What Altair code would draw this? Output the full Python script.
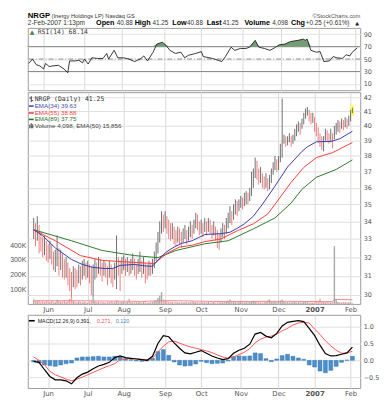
import altair as alt
import pandas as pd

# ---------------- data ----------------
month_idx = [8, 30, 50, 73, 93, 115, 136, 156, 176]
month_lbl = ["Jun", "Jul", "Aug", "Sep", "Oct", "Nov", "Dec", "2007", "Feb"]

close = [
    33.5, 33.2, 33.6, 33.3, 32.7, 32.5, 32.8, 32.3,
    32.2, 32.6, 32.1, 31.8, 31.9, 32.3, 31.9, 32.0, 31.6, 31.4, 31.5, 31.0, 30.8, 30.6, 31.1, 30.9, 30.8, 31.2, 31.0, 31.3, 31.5, 31.2,
    31.4, 31.1, 30.7, 31.0, 31.5, 31.3, 31.6, 31.4, 31.2, 31.5, 31.3, 31.0, 31.4, 31.1, 30.9, 31.3, 31.7, 31.5, 31.3, 31.6,
    31.7, 31.4, 31.6, 31.3, 31.5, 31.8, 31.4, 31.2, 31.5, 31.6, 31.3, 31.5, 31.3, 31.1, 31.4, 31.3, 31.5, 31.9, 32.3, 32.9, 33.4, 34.1, 33.9,
    34.2, 33.8, 33.6, 33.3, 33.5, 33.2, 33.0, 33.3, 33.1, 32.9, 33.2, 33.4, 33.0, 33.3, 33.6, 33.4, 33.8, 34.1, 33.9, 33.6,
    33.7, 33.5, 33.8, 33.6, 33.9, 33.7, 33.4, 33.6, 33.3, 33.1, 32.9, 33.2, 33.5, 33.4, 33.8, 34.1, 34.4, 34.2, 34.6, 34.9, 34.7, 35.0,
    35.2, 35.0, 35.3, 35.5, 35.3, 35.6, 36.4, 36.9, 37.5, 37.0, 36.6, 36.8, 36.4, 36.2, 36.5, 36.1, 36.3, 36.8, 37.3, 37.6, 37.4,
    37.6, 38.3, 39.0, 39.1, 38.9, 39.0, 39.2, 38.9, 39.1, 39.4, 39.7, 40.0, 39.8, 40.2, 40.5, 40.9, 41.1, 40.8, 40.5, 40.6,
    40.1, 39.7, 39.4, 39.0, 38.7, 38.8, 39.5, 39.3, 39.1, 39.4, 39.0, 39.6, 39.8, 40.1, 39.9, 40.2, 40.0, 40.3, 40.1, 40.4,
    41.0, 41.25,
]
high = [
    34.2, 33.9, 34.3, 33.8, 33.4, 33.1, 33.2, 32.9,
    32.7, 32.9, 32.7, 32.3, 32.4, 33.2, 32.5, 32.4, 32.2, 31.9, 32.0, 31.7, 31.4, 31.2, 31.5, 31.4, 31.3, 31.6, 31.5, 31.8, 31.9, 31.7,
    31.8, 31.6, 31.5, 31.6, 31.9, 31.7, 32.0, 31.9, 31.7, 31.8, 31.7, 31.5, 31.8, 31.6, 31.4, 31.7, 33.2, 32.0, 31.8, 32.0,
    32.1, 31.9, 32.0, 31.8, 31.9, 32.2, 31.9, 31.6, 31.9, 32.3, 31.8, 32.0, 31.7, 31.6, 31.8, 31.7, 31.9, 32.3, 32.8, 33.4, 34.0, 34.6, 34.4,
    34.6, 34.3, 34.1, 33.9, 33.9, 33.7, 33.5, 33.7, 33.6, 33.4, 33.6, 33.8, 33.5, 33.7, 34.0, 33.8, 34.1, 34.5, 34.4, 34.0,
    34.1, 33.9, 34.2, 34.0, 34.2, 34.1, 33.8, 34.0, 33.7, 33.5, 33.3, 33.6, 33.9, 33.8, 34.2, 34.5, 34.9, 34.6, 35.0, 35.3, 35.2, 35.3,
    35.5, 35.4, 35.7, 35.8, 35.7, 36.0, 37.0, 37.2, 37.9, 37.7, 37.2, 37.3, 36.9, 36.7, 36.9, 36.6, 36.8, 37.2, 37.6, 38.0, 37.8,
    38.0, 38.8, 41.9, 39.4, 39.3, 39.3, 39.5, 39.3, 39.4, 39.8, 40.1, 40.3, 40.2, 40.5, 40.9, 41.2, 41.3, 41.1, 40.9, 40.9,
    40.6, 40.2, 39.9, 39.5, 39.3, 39.3, 39.8, 39.7, 39.5, 39.8, 39.5, 40.0, 40.2, 40.4, 40.3, 40.5, 40.4, 40.6, 40.5, 40.7,
    41.1, 41.25,
]
low = [
    33.0, 32.6, 32.9, 32.2, 32.3, 32.0, 32.1, 31.8,
    31.7, 31.9, 31.6, 31.3, 31.2, 31.5, 31.0, 31.3, 30.9, 30.8, 30.9, 30.5, 30.2, 29.9, 30.4, 30.3, 30.4, 30.6, 30.5, 30.8, 31.0, 30.8,
    30.9, 30.6, 30.0, 29.9, 30.8, 30.9, 31.1, 31.0, 30.7, 31.0, 30.9, 30.5, 30.9, 30.6, 30.4, 30.8, 30.3, 31.0, 30.2, 31.1,
    31.3, 31.0, 31.2, 31.0, 31.1, 31.3, 31.0, 30.8, 31.1, 31.2, 30.9, 31.1, 30.6, 30.8, 31.0, 31.0, 31.1, 31.4, 31.8, 32.2, 32.8, 33.3, 33.4,
    33.6, 33.3, 33.0, 32.9, 33.0, 32.7, 32.6, 32.8, 32.7, 32.5, 32.8, 33.0, 32.7, 32.9, 33.1, 33.0, 33.3, 33.6, 33.5, 33.2,
    33.3, 33.1, 33.4, 33.2, 33.4, 33.3, 33.0, 33.2, 32.9, 32.5, 32.4, 32.8, 33.1, 33.0, 33.3, 33.6, 33.9, 33.8, 34.1, 34.4, 34.3, 34.6,
    34.8, 34.7, 34.9, 35.0, 35.0, 35.2, 35.5, 36.0, 36.6, 36.5, 36.2, 36.3, 36.0, 35.9, 36.0, 35.8, 35.9, 36.3, 36.8, 37.1, 37.0,
    37.1, 37.6, 37.9, 38.8, 38.6, 38.7, 38.9, 38.6, 38.8, 39.0, 39.3, 39.6, 39.4, 39.8, 40.1, 40.5, 40.7, 40.3, 40.1, 40.2,
    39.6, 39.3, 38.9, 38.6, 38.4, 38.3, 39.0, 38.9, 38.8, 38.9, 38.5, 39.1, 39.4, 39.6, 39.5, 39.8, 39.7, 39.9, 39.8, 40.0,
    40.3, 40.88,
]
volume_k = [
    30, 22, 18, 25, 15, 20, 12, 24,
    18, 14, 22, 16, 12, 28, 20, 15, 18, 22, 14, 26, 35, 50, 20, 16, 12, 18, 14, 10, 15, 12,
    8, 14, 22, 45, 18, 12, 16, 10, 14, 12, 9, 15, 11, 18, 13, 10, 25, 14, 12, 16,
    12, 10, 14, 35, 12, 9, 11, 13, 10, 12, 8, 14, 11, 9, 10, 12, 14, 20, 25, 40, 55, 80, 30,
    22, 18, 15, 12, 14, 10, 16, 12, 11, 13, 9, 12, 14, 10, 12, 18, 15, 11, 13, 10,
    12, 14, 9, 11, 15, 10, 12, 14, 9, 11, 13, 10, 12, 15, 18, 22, 30, 16, 14, 12, 10, 13,
    15, 12, 10, 14, 11, 13, 20, 22, 18, 14, 12, 10, 9, 11, 13, 25, 30, 12, 14, 16, 13,
    18, 22, 28, 16, 14, 12, 10, 15, 11, 13, 9, 12, 14, 10, 16, 12, 11, 9, 10, 8,
    12, 14, 18, 35, 16, 12, 10, 14, 11, 9, 12, 395, 30, 14, 12, 10, 13, 11, 9, 12,
    10, 4.098,
]
ema34 = [(0, 33.52), (5, 33.18), (12, 32.5), (21, 31.87), (27, 31.6), (33, 31.44), (40, 31.38), (44, 31.39),
         (48, 31.55), (56, 31.6), (62, 31.52), (66, 31.5), (70, 31.95), (74, 32.3), (78, 32.55), (82, 32.75),
         (88, 32.9), (95, 33.25), (104, 33.3), (109, 33.38), (113, 33.6), (117, 33.86), (122, 34.3), (127, 35.0),
         (134, 36.1), (141, 37.3), (149, 38.3), (152, 38.6), (157, 38.93), (165, 38.95), (170, 39.13), (177, 39.63)]
ema55 = [(0, 33.52), (12, 32.9), (26, 32.08), (38, 31.82), (56, 31.71), (67, 31.65), (74, 32.2), (81, 32.55),
         (88, 32.65), (95, 32.85), (104, 33.0), (113, 33.46), (122, 33.86), (130, 34.43), (134, 35.0), (143, 36.34),
         (150, 37.27), (157, 37.9), (166, 38.22), (177, 38.88)]
ema89 = [(0, 33.52), (21, 32.9), (38, 32.36), (56, 32.08), (69, 31.97), (79, 32.36), (95, 32.73), (108, 32.9),
         (122, 33.57), (134, 34.2), (143, 35.08), (149, 35.91), (157, 36.65), (168, 37.14), (177, 37.75)]
vol_ema_k = [(0, 22), (20, 22), (40, 20), (60, 17), (70, 22), (80, 22), (100, 17), (120, 17), (140, 18),
             (160, 16), (166, 16), (167, 31), (177, 28)]
rsi14 = [(0, 43), (2, 50), (4, 41), (6, 39), (8, 34), (9, 43), (11, 38), (13, 39), (16, 40), (19, 34), (21, 28),
         (22, 47), (25, 47), (27, 48), (29, 44), (30, 50), (32, 42), (34, 52), (37, 51), (40, 51), (42, 59), (43, 50),
         (46, 64), (48, 52), (51, 52), (54, 50), (57, 46), (60, 50), (62, 55), (64, 47), (67, 61), (69, 74), (72, 77),
         (74, 72), (76, 64), (79, 59), (82, 61), (84, 52), (86, 56), (90, 59), (93, 62), (94, 54), (99, 51), (104, 46),
         (106, 54), (109, 69), (111, 64), (114, 67), (117, 67), (119, 69), (122, 80), (124, 69), (127, 67), (130, 64),
         (133, 69), (135, 73), (138, 74), (141, 78), (145, 80), (148, 82), (149, 80), (150, 82), (152, 64), (155, 61),
         (157, 62), (159, 46), (162, 47), (164, 54), (166, 52), (169, 51), (171, 57), (173, 55), (174, 60), (177, 68)]
macd_step = 3  # MACD values read every 3 trading days
macd_line = [-0.03, -0.06, -0.28, -0.48, -0.58, -0.58, -0.61, -0.70, -0.52, -0.41,
             -0.35, -0.25, -0.17, -0.12, -0.06, 0.08, 0.13, 0.08, 0.06, 0.04,
             0.02, 0.00, 0.12, 0.50, 0.73, 0.70, 0.52, 0.36, 0.22, 0.19,
             0.24, 0.29, 0.21, 0.13, 0.07, 0.02, 0.05, 0.21, 0.30, 0.36,
             0.48, 0.78, 0.83, 0.72, 0.67, 0.80, 1.02, 1.13, 1.16, 1.18,
             1.15, 0.95, 0.74, 0.45, 0.20, 0.13, 0.14, 0.18, 0.22, 0.39]
macd_signal = [0.10, 0.00, -0.13, -0.33, -0.43, -0.49, -0.56, -0.61, -0.56, -0.50,
               -0.43, -0.36, -0.29, -0.22, -0.16, -0.10, 0.02, 0.05, 0.05, 0.05,
               0.03, 0.02, 0.06, 0.25, 0.42, 0.55, 0.57, 0.51, 0.45, 0.40,
               0.36, 0.32, 0.28, 0.23, 0.16, 0.10, 0.06, 0.10, 0.17, 0.24,
               0.35, 0.52, 0.63, 0.69, 0.72, 0.78, 0.88, 0.95, 1.05, 1.11,
               1.13, 1.11, 0.93, 0.77, 0.58, 0.43, 0.30, 0.21, 0.22, 0.27]
macd_hist = [-0.05, -0.08, -0.14, -0.16, -0.18, -0.14, -0.10, -0.08, 0.07, 0.10,
             0.10, 0.11, 0.12, 0.10, 0.10, 0.12, 0.11, 0.04, 0.02, -0.02,
             -0.03, -0.02, 0.06, 0.26, 0.32, 0.15, -0.05, -0.14, -0.17, -0.16,
             -0.11, -0.03, -0.07, -0.10, -0.09, -0.08, -0.02, 0.11, 0.13, 0.12,
             0.13, 0.22, 0.20, 0.05, -0.04, 0.04, 0.14, 0.18, 0.12, 0.07,
             0.03, -0.14, -0.20, -0.32, -0.37, -0.30, -0.18, -0.06, 0.01, 0.12]

# ---------------- tables ----------------
n = len(close)
px = pd.DataFrame({"idx": list(range(n)), "close": close, "high": high, "low": low,
                   "vol": [v * 1000 for v in volume_k]})
px["dir"] = ["up" if i == 0 or close[i] >= close[i - 1] else "down" for i in range(n)]


def pairs(lst, name, mult=1.0):
    return pd.DataFrame({"idx": [a for a, b in lst], name: [b * mult for a, b in lst]})


e34, e55, e89 = pairs(ema34, "p"), pairs(ema55, "p"), pairs(ema89, "p")
vema = pairs(vol_ema_k, "vol", 1000)
rsi_df = pairs(rsi14, "rsi")
macd_df = pd.DataFrame({"idx": list(range(0, macd_step * len(macd_line), macd_step)),
                        "macd": macd_line, "sig": macd_signal, "hist": macd_hist})
one = pd.DataFrame({"k": [0]})

# ---------------- layout ----------------
W = 336
H_RSI, H_PX, H_MACD = 63, 214, 74
XS = alt.Scale(domain=[-0.533, 178.6], nice=False, zero=False)
lbl_expr = ("[" + ",".join("'%s'" % m for m in month_lbl) + "][indexof(["
            + ",".join(str(v) for v in month_idx) + "], datum.value)]")
LBL_FONT = "DejaVu Sans"


def xax(labels):
    kw = dict(values=month_idx, grid=True, gridColor="#dadada", ticks=False, tickSize=0,
              domain=False, title=None, labelFlush=False)
    if labels:
        kw.update(labelExpr=lbl_expr, labelPadding=2, labelFontSize=7, labelFont=LBL_FONT,
                  labelColor="#555",
                  labelFontWeight={"condition": {"test": "datum.value == 156", "value": "bold"},
                                   "value": "normal"})
    else:
        kw.update(labels=False)
    return alt.Axis(**kw)


def T(s, x, y, size, weight="normal", color="#333", font="Liberation Sans", align="left",
      baseline="alphabetic"):
    return alt.Chart(one).mark_text(text=s, fontSize=size, fontWeight=weight, color=color, font=font,
                                    align=align, baseline=baseline).encode(x=alt.value(x), y=alt.value(y))


def R(x, x2, y, y2=None, color="#444", w=1.0, op=1.0):
    enc = dict(x=alt.value(x), x2=alt.value(x2), y=alt.value(y))
    if y2 is not None:
        enc["y2"] = alt.value(y2)
    return alt.Chart(one).mark_rule(color=color, strokeWidth=w, opacity=op).encode(**enc)


# ---------------- RSI panel ----------------
RS = alt.Scale(domain=[0, 100], nice=False, zero=False)
RAX = alt.Axis(orient="right", values=[10, 30, 50, 70, 90], grid=True, gridColor="#e4e4e4", ticks=False,
               domain=False, labelPadding=3, labelFontSize=6.5, labelFont=LBL_FONT, labelColor="#555", title=None)
XR = alt.X("idx:Q", scale=XS, axis=xax(False))


def yr(f):
    return alt.Y(f, scale=RS, axis=RAX)


bound_rule = alt.Chart(one).mark_rule(opacity=0, strokeWidth=0).encode(
    x=alt.value(-19), x2=alt.value(0), y=alt.value(-17))

y1, y2 = -10.5, -2.5
header = [
    T("NRGP", 0, y1, 7.8, "bold", "#000"),
    T("(Inergy Holdings LP) Nasdaq GS", 24, y1, 5.8, color="#333"),
    T("\u00a9StockCharts.com", 336, y1, 5.8, color="#555", align="right"),
    T("2-Feb-2007 1:13pm", 0, y2, 6.6, color="#333"),
    T("Open", 69, y2, 7.3, "bold", "#000"), T("40.88", 90, y2, 6.4),
    T("High", 108, y2, 7.3, "bold", "#000"), T("41.25", 126, y2, 6.4),
    T("Low", 146, y2, 7.3, "bold", "#000"), T("40.88", 161, y2, 6.4),
    T("Last", 181, y2, 7.3, "bold", "#000"), T("41.25", 197, y2, 6.4),
    T("Volume", 219, y2, 7.3, "bold", "#000"), T("4,098", 247, y2, 6.4),
    T("Chg", 266, y2, 7.3, "bold", "#000"), T("+0.25 (+0.61%)", 281, y2, 6.4),
    T("\u25b2", 331, y2, 5, color="#222", font="DejaVu Sans"),
]

lv = alt.Chart(pd.DataFrame({"lv": [30, 70]})).mark_rule(color="#8c8c8c", strokeWidth=1).encode(y=yr("lv:Q"))
mid = alt.Chart(pd.DataFrame({"lv": [50]})).mark_rule(color="#8c8c8c", strokeWidth=1,
                                                       strokeDash=[5, 2, 1, 2]).encode(y=yr("lv:Q"))
rsi_fill = alt.Chart(rsi_df).transform_calculate(rtop="max(datum.rsi, 70)").mark_area(
    color="#6a996a", opacity=0.95).encode(x=XR, y=yr("rtop:Q"), y2=alt.datum(70))
rsi_line = alt.Chart(rsi_df).mark_line(color="#222", strokeWidth=0.9).encode(x=XR, y=yr("rsi:Q"))
rsi_lab = [
    T("\u25b2", 2, 4, 6, color="#4d7f4d", font="DejaVu Sans", baseline="middle"),
    T("RSI(14) 68.14", 10, 4, 6.5, color="#444", font="DejaVu Sans Mono", baseline="middle"),
]
rsi_panel = alt.layer(bound_rule, *header, lv, mid, rsi_fill, rsi_line, *rsi_lab).properties(
    width=W, height=H_RSI)

# ---------------- price panel ----------------
PS = alt.Scale(type="log", domain=[29.549, 42.355], nice=False, zero=False)
PAX = alt.Axis(orient="right", values=list(range(30, 43)), format="d", grid=True, gridColor="#e0e0e0",
               ticks=False, domain=False, labelPadding=3, labelFontSize=6.5, labelFont=LBL_FONT,
               labelColor="#555", title=None)
VS = alt.Scale(domain=[0, 1446000], nice=False, zero=True)
VAX = alt.Axis(orient="left", values=[100000, 200000, 300000, 400000], labelExpr="(datum.value/1000) + 'K'",
               grid=False, ticks=False, domain=False, labelPadding=2, labelFontSize=7,
               labelFont="Liberation Sans", labelColor="#555", title=None)
XP = alt.X("idx:Q", scale=XS, axis=xax(True))

vol_bars = alt.Chart(px).mark_bar(size=1.4).encode(
    x=XP, y=alt.Y("vol:Q", scale=VS, axis=VAX), y2=alt.datum(0),
    color=alt.condition("datum.dir == 'up'", alt.value("#a9a9a9"), alt.value("#f3a3a3")))
vol_line = alt.Chart(vema).mark_line(color="#f08a8a", strokeWidth=1).encode(
    x=XP, y=alt.Y("vol:Q", scale=VS, axis=None))
hl = alt.Chart(px).transform_filter("datum.idx == %d" % (n - 1)).transform_calculate(
    xa="datum.idx - 1", xb="datum.idx + 1", ya="datum.low * 0.996", yb="datum.high * 1.004"
).mark_rect(color="#ffff50").encode(
    x=alt.X("xa:Q", scale=XS, axis=xax(True)), x2="xb:Q",
    y=alt.Y("ya:Q", scale=PS, axis=None), y2="yb:Q")
bars = alt.Chart(px).mark_rule(strokeWidth=0.9).encode(
    x=XP, y=alt.Y("low:Q", scale=PS, axis=PAX), y2="high:Q",
    color=alt.condition("datum.dir == 'up'", alt.value("#606060"), alt.value("#ea7070")))


def ema_line(df, col):
    return alt.Chart(df).mark_line(color=col, strokeWidth=1).encode(x=XP, y=alt.Y("p:Q", scale=PS, axis=None))


l89 = ema_line(e89, "#2f7a2f")
l55 = ema_line(e55, "#ff3c3c")
l34 = ema_line(e34, "#3c3ca8")

px_lab = [
    R(3.5, 3.5, 4, 10, "#444", 1), R(1.5, 3.5, 6, None, "#444", 1), R(3.5, 5.5, 8.5, None, "#444", 1),
    T("NRGP (Daily) 41.25", 7, 7, 6.5, color="#333", font="DejaVu Sans Mono", baseline="middle"),
    R(1, 6, 14, None, "#4a4aa8", 1.6), T("EMA(34) 39.63", 7, 14, 6.3, color="#4a4aa8", baseline="middle"),
    R(1, 6, 21, None, "#ff4040", 1.6), T("EMA(55) 38.88", 7, 21, 6.3, color="#ff4040", baseline="middle"),
    R(1, 6, 27.5, None, "#2f6f2f", 1.6), T("EMA(89) 37.75", 7, 27.5, 6.3, color="#2f6f2f", baseline="middle"),
    R(2, 2, 33, 36.5, "#555", 1.2), R(3.5, 3.5, 31.5, 36.5, "#555", 1.2), R(5, 5, 32.5, 36.5, "#555", 1.2),
    T("Volume 4,098, EMA(50) 15,856", 7, 34, 6.3, color="#444", baseline="middle"),
]
price_panel = alt.layer(vol_bars, vol_line, hl, bars, l89, l55, l34, *px_lab).resolve_scale(
    y="independent").properties(width=W, height=H_PX)

# ---------------- MACD panel ----------------
MS = alt.Scale(domain=[-0.8235, 1.3529], nice=False, zero=False)
MAX = alt.Axis(orient="right", values=[-0.5, 0, 0.5, 1.0], format=".1f", grid=True, gridColor="#e0e0e0",
               ticks=False, domain=False, labelPadding=3, labelFontSize=6.5, labelFont=LBL_FONT,
               labelColor="#555", title=None)
XM = alt.X("idx:Q", scale=XS, axis=xax(True))


def ym(f):
    return alt.Y(f, scale=MS, axis=MAX)


hist_bars = alt.Chart(macd_df).mark_bar(size=4, color="#4a8fcc", stroke="#256aa6", strokeWidth=0.4).encode(
    x=XM, y=ym("hist:Q"), y2=alt.datum(0))
sig_l = alt.Chart(macd_df).mark_line(color="#ff5555", strokeWidth=1).encode(x=XM, y=ym("sig:Q"))
macd_l = alt.Chart(macd_df).mark_line(color="#000", strokeWidth=1.2).encode(x=XM, y=ym("macd:Q"))
m_lab = [
    R(1, 7, 6, None, "#000", 1.6),
    T("MACD(12,26,9) 0.391,", 10, 6, 5.4, color="#222", baseline="middle"),
    T("0.271,", 70, 6, 5.4, color="#ff4a4a", baseline="middle"),
    T("0.120", 89, 6, 5.4, color="#3f86c4", baseline="middle"),
]
macd_panel = alt.layer(hist_bars, sig_l, macd_l, *m_lab).properties(width=W, height=H_MACD)

chart = alt.vconcat(rsi_panel, price_panel, macd_panel, spacing=0).properties(
    padding=0, background="#ffffff").configure_view(stroke="#9c9c9c", strokeWidth=1)

chart.save("out.html", embed_options={"renderer": "svg", "actions": False})
